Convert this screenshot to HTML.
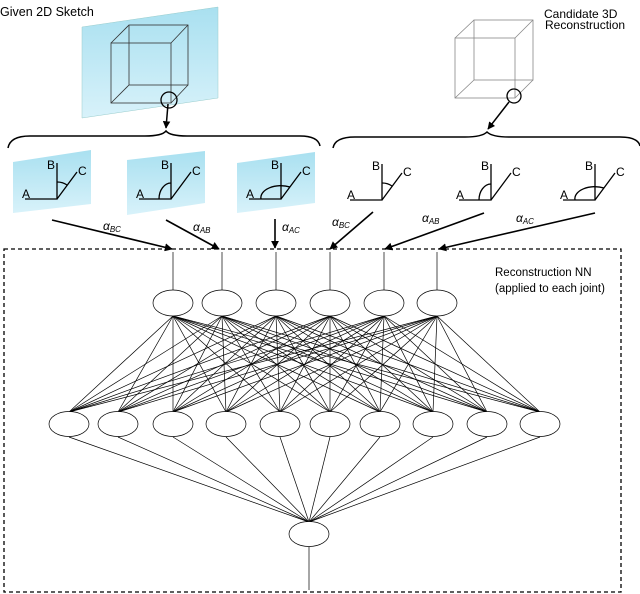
<!DOCTYPE html>
<html><head><meta charset="utf-8"><style>
body{margin:0;background:#fff}
svg{display:block}
text{font-family:"Liberation Sans",sans-serif}
.a{font-family:"Liberation Serif",serif;font-style:italic}
</style></head><body>
<svg id="s" width="640" height="594" viewBox="0 0 640 594" xmlns="http://www.w3.org/2000/svg">
<defs>
<linearGradient id="g" x1="0" y1="0" x2="0" y2="1"><stop offset="0" stop-color="#a9e0f0"/><stop offset="1" stop-color="#d8f2fa"/></linearGradient>
<marker id="ar" viewBox="0 0 10 10" refX="9" refY="5" markerWidth="5" markerHeight="5" orient="auto"><path d="M0,0L10,5L0,10z" fill="#000"/></marker>
</defs>
<text x="0" y="16" font-size="12.5">Given 2D Sketch</text>
<text x="544" y="18" font-size="12">Candidate  3D</text>
<text x="545" y="29" font-size="12">Reconstruction</text>
<polygon points="82,27 218,7 218,98 82,118" fill="url(#g)" stroke="#9cc" stroke-width="0.5"/>
<g fill="none" stroke="#333" stroke-width="0.8">
<rect x="111" y="43" width="60" height="60"/><rect x="129" y="25" width="59" height="60"/>
<line x1="111" y1="43" x2="129" y2="25"/><line x1="171" y1="43" x2="188" y2="25"/><line x1="111" y1="103" x2="129" y2="85"/><line x1="171" y1="103" x2="188" y2="85"/>
</g>
<circle cx="169" cy="100" r="8" fill="none" stroke="#000" stroke-width="1.3"/>
<line x1="168" y1="104" x2="166" y2="128" stroke="#000" stroke-width="1.5" marker-end="url(#ar)"/>
<g fill="none" stroke="#888" stroke-width="0.8">
<rect x="455" y="38" width="60" height="60"/><rect x="474" y="20" width="59" height="60"/>
<line x1="455" y1="38" x2="474" y2="20"/><line x1="515" y1="38" x2="533" y2="20"/><line x1="455" y1="98" x2="474" y2="80"/><line x1="515" y1="98" x2="533" y2="80"/>
</g>
<circle cx="514" cy="96" r="7" fill="none" stroke="#000" stroke-width="1.3"/>
<line x1="509" y1="102" x2="488" y2="129" stroke="#000" stroke-width="1.5" marker-end="url(#ar)"/>
<path d="M8,148 Q10,136 30,136 L145,136 Q162,136 166,131 Q170,136 187,136 L300,136 Q318,136 320,146" fill="none" stroke="#000" stroke-width="1.5"/>
<path d="M333,148 Q335,137 355,137 L465,137 Q482,137 487,132 Q492,137 509,137 L620,137 Q638,137 640,146" fill="none" stroke="#000" stroke-width="1.5"/>
<polygon points="13,162 91,150 91,204 13,213" fill="url(#g)"/>
<polygon points="127,160 205,151 205,203 127,215" fill="url(#g)"/>
<polygon points="237,163 315,152 315,203 237,213" fill="url(#g)"/>
<g id="joints" fill="none" stroke="#000" stroke-width="1.3"></g>
<g id="lbl" font-size="12"></g>
<g stroke="#000" stroke-width="1.6" marker-end="url(#ar)">
<line x1="52" y1="220" x2="172" y2="249"/>
<line x1="166" y1="220" x2="219" y2="249"/>
<line x1="275" y1="219" x2="275" y2="248"/>
<line x1="373" y1="212" x2="330" y2="249"/>
<line x1="484" y1="213" x2="385" y2="249"/>
<line x1="595" y1="213" x2="439" y2="249"/>
</g>
<g class="a" font-size="12">
<text x="103" y="230">α<tspan font-size="8" dy="2">BC</tspan></text>
<text x="193" y="231">α<tspan font-size="8" dy="2">AB</tspan></text>
<text x="282" y="231">α<tspan font-size="8" dy="2">AC</tspan></text>
<text x="332" y="226">α<tspan font-size="8" dy="2">BC</tspan></text>
<text x="422" y="222">α<tspan font-size="8" dy="2">AB</tspan></text>
<text x="516" y="222">α<tspan font-size="8" dy="2">AC</tspan></text>
</g>
<rect x="4" y="249" width="617" height="343" fill="none" stroke="#000" stroke-width="1.3" stroke-dasharray="4,3"/>
<text x="495" y="276" font-size="11.5">Reconstruction NN</text>
<text x="495" y="292" font-size="11.5">(applied to each joint)</text>
<g id="nn" stroke="#000" stroke-width="0.7" fill="none"></g>
</svg>
<script>
(function(){
var ns="http://www.w3.org/2000/svg";
function el(p,t,a){var e=document.createElementNS(ns,t);for(var k in a)e.setAttribute(k,a[k]);document.getElementById(p).appendChild(e);return e;}
var J=[[57,199,0],[171,199,1],[281,199,2],[382,200,0],[491,200,1],[595,200,2]];
J.forEach(function(j){var x=j[0],y=j[1];
el("joints","path",{d:"M"+(x-32)+","+y+"H"+x+"V"+(y-36)+"M"+x+","+y+"L"+(x+20)+","+(y-27)});
var d;
if(j[2]==0)d="M"+x+","+(y-17)+"A17,17 0 0,1 "+(x+10)+","+(y-14);
else if(j[2]==1)d="M"+(x-12)+","+y+"A12,16 0 0,1 "+x+","+(y-16);
else d="M"+(x-20)+","+y+"A20,12 0 0,1 "+(x+9)+","+(y-12);
el("joints","path",{d:d});
var t=el("lbl","text",{x:x-35,y:y-1});t.textContent="A";
t=el("lbl","text",{x:x-10,y:y-30});t.textContent="B";
t=el("lbl","text",{x:x+21,y:y-24});t.textContent="C";
});
var tp=[173,222,276,330,384,437],mid=[69,118,173,226,280,330,380,433,487,540],ox=309;
tp.forEach(function(x){el("nn","line",{x1:x,y1:252,x2:x,y2:290});
mid.forEach(function(m){el("nn","line",{x1:x,y1:316,x2:m,y2:412});});});
mid.forEach(function(m){el("nn","line",{x1:m,y1:437,x2:ox,y2:522});});
el("nn","line",{x1:ox,y1:547,x2:ox,y2:590});
tp.forEach(function(x){el("nn","ellipse",{cx:x,cy:303,rx:20,ry:13,fill:"#fff"});});
mid.forEach(function(x){el("nn","ellipse",{cx:x,cy:424,rx:20,ry:12.5,fill:"#fff"});});
el("nn","ellipse",{cx:ox,cy:534,rx:20,ry:12.5,fill:"#fff"});
})();
</script>
</body></html>
